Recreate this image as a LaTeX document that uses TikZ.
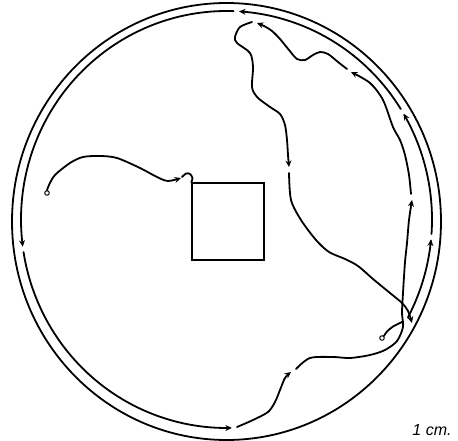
\documentclass[tikz,border=0pt]{standalone}
\usepackage{fontspec}
\setsansfont{Liberation Sans}
\usetikzlibrary{arrows.meta}

\begin{document}
\begin{tikzpicture}[
    x=1pt, y=-1pt,
    wall/.style={line width=1.8pt, draw=black},
    track/.style={line width=1.8pt, draw=black, line cap=round, line join=round},
    fwd/.style={track, -{Stealth[length=6.5pt,width=6pt]}},
    start/.style={circle, draw=black, line width=1pt, fill=white,
                  inner sep=0pt, minimum size=4.5pt},
    block/.style={draw=black, line width=1.4pt, minimum width=72pt,
                  minimum height=77pt, inner sep=0pt},
    unitlabel/.style={font=\sffamily\itshape\fontsize{16}{18}\selectfont},
]
\useasboundingbox (0,0) rectangle (458,441);

% ---- arena wall ----
\draw[wall] (226.5,221.5) ellipse [x radius=214.5, y radius=218.5];

% ---- object + release points ----
\node[block] (box) at (228,221.5) {};
\node[start] (startL) at (47,193) {};
\node[start] (startR) at (382,338) {};
\coordinate (turn) at (412,323);

% ---- first run (left) ----
\draw[fwd] plot[smooth] coordinates {(startL.north) (49,185) (55,175) (70,163)
    (83,157) (100,156) (117,158) (140,168) (157,177) (168,181) (181,178)};
\draw[track] plot[smooth] coordinates {(182,177) (186,173.5) (190,174)
    (192.5,178) (box.north west)};

% ---- second run (right) ----
\draw[track] plot[smooth] coordinates {(startR.north east) (387,331.5)
    (393,326.5) (400,323) (403,321.5)};
\draw[fwd] plot[smooth] coordinates {(237,427) (253,420) (268,412) (275,402)
    (280,390) (285,378) (291,372)};
\draw[fwd] plot[smooth] coordinates {(296,369) (310,358) (333,357) (350,358)
    (370,355) (385,350) (397,341) (403,327) (402,313) (403,293) (405,262)
    (407,243) (409,220) (412,200)};
\draw[fwd] plot[smooth] coordinates {(411,194) (409,175) (405,155) (400,140)
    (393,127) (383,100) (370,83) (351,72)};
\draw[fwd] plot[smooth] coordinates {(347,69) (338,62) (328,54) (320,52)
    (313,55) (305,60) (297,59) (289,50) (280,39) (272,31) (264,26) (257,23)};
\draw[fwd] plot[smooth] coordinates {(252,22) (240,27) (235,37) (237,43)
    (250,53) (253,67) (252,87) (257,97) (270,107) (280,114) (285,125)
    (287,140) (288,155) (289,167)};
\draw[fwd] plot[smooth] coordinates {(289,173) (291,200) (301,220) (316,240)
    (329,252) (345,259) (358,266) (373,279) (390,293) (402,303) (408,311)
    (turn)};

% ---- along the wall ----
\foreach \a/\b in {28/5.5, 4/-30.5, -32/-86.5, -88/-187.5, -189/-271.5}
    \draw[fwd] plot[domain=\a:\b, samples=40, smooth]
        ({226.5+205.5*cos(\x)}, {219.5+208.5*sin(\x)});

% ---- scale ----
\node[unitlabel] (unit) at (432,430) {1 cm.};

\end{tikzpicture}
\end{document}
